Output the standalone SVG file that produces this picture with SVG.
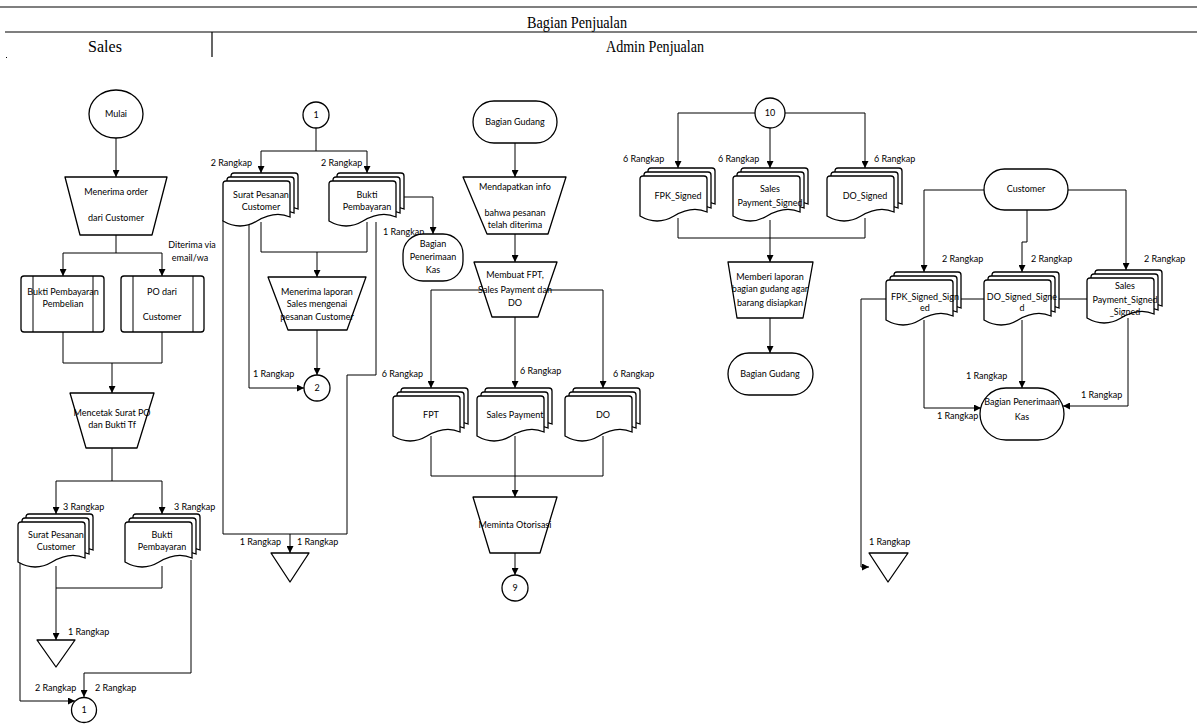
<svg xmlns="http://www.w3.org/2000/svg" width="1197" height="727" viewBox="0 0 1197 727">
<style>
.s{fill:#fff;stroke:#000;stroke-width:1.3}
.c{fill:none;stroke:#000;stroke-width:1}
.a{marker-end:url(#ah)}
.t{font-family:Lato,"Liberation Sans",sans-serif;font-size:9px;fill:#000;text-anchor:middle}
.l{font-family:Lato,"Liberation Sans",sans-serif;font-size:9px;fill:#000;text-anchor:start}
.e{font-family:Lato,"Liberation Sans",sans-serif;font-size:9px;fill:#000;text-anchor:end}
.h{font-family:"Liberation Serif",serif;font-size:16px;fill:#000;text-anchor:middle}
.hl{fill:none;stroke:#000;stroke-width:1.2}
</style>
<defs>
<marker id="ah" viewBox="0 0 10 10" refX="10" refY="5" markerWidth="7" markerHeight="7" markerUnits="userSpaceOnUse" orient="auto"><path d="M0,0 L10,5 L0,10 z" fill="#000"/></marker>
<path id="doc" class="s" d="M0,3 Q0,0 3,0 H64 Q67,0 67,3 V36 C56,31 44,34 34,40 C24,46 12,47 0,40 Z"/>
<g id="md"><use href="#doc" x="8" y="0"/><use href="#doc" x="4" y="4"/><use href="#doc" x="0" y="8"/></g>
</defs>
<rect width="1197" height="727" fill="#fff"/>

<g id="header">
<path class="hl" d="M0,7 H1197 M5,32 H1197 M212,32 V57"/>
<rect x="6" y="57" width="1" height="1" fill="#000"/>
<text class="h" x="577" y="28" textLength="100" lengthAdjust="spacingAndGlyphs">Bagian Penjualan</text>
<text class="h" x="105" y="52">Sales</text>
<text class="h" x="655" y="52" textLength="98" lengthAdjust="spacingAndGlyphs">Admin Penjualan</text>
</g>

<g id="connectors">
<path class="c a" d="M116,138 V177"/>
<path class="c" d="M116,235 V253 M63,253 H162"/>
<path class="c a" d="M63,253 V276"/>
<path class="c a" d="M162,253 V276"/>
<path class="c" d="M63,332 V363 H162 V332"/>
<path class="c a" d="M112,363 V393"/>
<path class="c" d="M112,448 V481 M56,481 H162"/>
<path class="c a" d="M56,481 V514"/>
<path class="c a" d="M162,481 V514"/>
<path class="c" d="M162,566 V588 H56"/>
<path class="c a" d="M56,566 V640"/>
<path class="c a" d="M20,560 V701 H75"/>
<path class="c a" d="M191,560 V673 H84 V697"/>

<path class="c" d="M316,128 V151 M261,151 H367"/>
<path class="c a" d="M261,151 V173"/>
<path class="c a" d="M367,151 V173"/>
<path class="c a" d="M404,197 H433 V234"/>
<path class="c" d="M261,222 V252 H367 V222"/>
<path class="c a" d="M317,252 V277"/>
<path class="c a" d="M317,330 V375"/>
<path class="c a" d="M249,222 V388 H304"/>
<path class="c" d="M223,220 V534 H347 V375 H376 V222"/>
<path class="c a" d="M290,534 V553"/>

<path class="c a" d="M515,143 V177"/>
<path class="c a" d="M515,234 V262"/>
<path class="c" d="M431,290 H603"/>
<path class="c a" d="M431,290 V388"/>
<path class="c a" d="M603,290 V388"/>
<path class="c a" d="M515,317 V388"/>
<path class="c" d="M431,436 V476 H603 V436"/>
<path class="c a" d="M515,436 V497"/>
<path class="c a" d="M515,553 V575"/>

<path class="c a" d="M755,113 H678 V168"/>
<path class="c a" d="M785,113 H865 V168"/>
<path class="c a" d="M770,128 V168"/>
<path class="c" d="M678,218 V238 H865 V218"/>
<path class="c a" d="M770,220 V262"/>
<path class="c a" d="M770,318 V353"/>

<path class="c a" d="M984,190 H924 V272"/>
<path class="c a" d="M1068,190 H1126 V270"/>
<path class="c a" d="M1027,210 V242 H1022 V272"/>
<path class="c" d="M861,299 H1087"/>
<path class="c a" d="M861,299 V567 H869"/>
<path class="c a" d="M924,320 V408 H981"/>
<path class="c a" d="M1022,320 V388"/>
<path class="c a" d="M1128,318 V406 H1063"/>

<text class="l" x="63" y="510">3 Rangkap</text>
<text class="l" x="174" y="510">3 Rangkap</text>
<text class="l" x="68" y="635">1 Rangkap</text>
<text class="l" x="35" y="691">2 Rangkap</text>
<text class="l" x="95" y="691">2 Rangkap</text>
<text class="t" x="192" y="248">Diterima via</text>
<text class="t" x="190" y="261">email/wa</text>

<text class="e" x="252" y="166">2 Rangkap</text>
<text class="l" x="321" y="166">2 Rangkap</text>
<text class="l" x="383" y="235">1 Rangkap</text>
<text class="l" x="253" y="377">1 Rangkap</text>
<text class="e" x="281" y="545">1 Rangkap</text>
<text class="l" x="297" y="545">1 Rangkap</text>

<text class="e" x="423" y="377">6 Rangkap</text>
<text class="l" x="520" y="374">6 Rangkap</text>
<text class="l" x="613" y="377">6 Rangkap</text>

<text class="l" x="623" y="162">6 Rangkap</text>
<text class="l" x="718" y="162">6 Rangkap</text>
<text class="l" x="874" y="162">6 Rangkap</text>

<text class="l" x="942" y="262">2 Rangkap</text>
<text class="l" x="1031" y="262">2 Rangkap</text>
<text class="l" x="1144" y="262">2 Rangkap</text>
<text class="l" x="869" y="545">1 Rangkap</text>
<text class="l" x="937" y="419">1 Rangkap</text>
<text class="l" x="966" y="379">1 Rangkap</text>
<text class="l" x="1081" y="398">1 Rangkap</text>
</g>

<g id="mulai"><ellipse class="s" cx="116" cy="114" rx="27" ry="24"/><text class="t" x="116" y="117">Mulai</text></g>
<g id="menerima-order"><polygon class="s" stroke-linejoin="round" points="65,177 167,177 152,235 80,235"/><text class="t" x="116" y="195">Menerima order</text><text class="t" x="116" y="221">dari Customer</text></g>
<g id="bukti-pembelian"><rect class="s" x="21" y="276" width="83" height="56" rx="3"/><path class="c" d="M33,276 V332 M93,276 V332"/><text class="t" x="63" y="295">Bukti Pembayaran</text><text class="t" x="63" y="307">Pembelian</text></g>
<g id="po-customer"><rect class="s" x="121" y="276" width="83" height="56" rx="3"/><path class="c" d="M133,276 V332 M193,276 V332"/><text class="t" x="162" y="295">PO dari</text><text class="t" x="162" y="320">Customer</text></g>
<g id="mencetak"><polygon class="s" stroke-linejoin="round" points="70,393 154,393 137,448 86,448"/><text class="t" x="112" y="416">Mencetak Surat PO</text><text class="t" x="112" y="428">dan Bukti Tf</text></g>
<g id="sales-surat"><use href="#md" x="18" y="514"/><text class="t" x="56" y="538">Surat Pesanan</text><text class="t" x="56" y="550">Customer</text></g>
<g id="sales-bukti"><use href="#md" x="125" y="514"/><text class="t" x="162" y="538">Bukti</text><text class="t" x="162" y="550">Pembayaran</text></g>
<g id="sales-arsip"><polygon class="s" stroke-linejoin="round" points="37,640 75,640 56,667"/></g>
<g id="conn-1a"><circle class="s" cx="84" cy="710" r="12.5"/><text class="t" x="84" y="713">1</text></g>

<g id="conn-1b"><circle class="s" cx="316" cy="115" r="13"/><text class="t" x="316" y="118">1</text></g>
<g id="adm-surat"><use href="#md" x="223" y="173"/><text class="t" x="261" y="198">Surat Pesanan</text><text class="t" x="261" y="210">Customer</text></g>
<g id="adm-bukti"><use href="#md" x="329" y="173"/><text class="t" x="367" y="198">Bukti</text><text class="t" x="367" y="210">Pembayaran</text></g>
<g id="kas-1"><rect class="s" x="403" y="234" width="60" height="47" rx="20"/><text class="t" x="433" y="247">Bagian</text><text class="t" x="433" y="260">Penerimaan</text><text class="t" x="433" y="273">Kas</text></g>
<g id="menerima-laporan"><polygon class="s" stroke-linejoin="round" points="268,277 366,277 347,330 288,330"/><text class="t" x="317" y="295">Menerima laporan</text><text class="t" x="317" y="307">Sales mengenai</text><text class="t" x="317" y="320">pesanan Customer</text></g>
<g id="conn-2"><circle class="s" cx="317" cy="388" r="13"/><text class="t" x="317" y="391">2</text></g>
<g id="adm-arsip"><polygon class="s" stroke-linejoin="round" points="271,553 309,553 290,582"/></g>

<g id="gudang-1"><rect class="s" x="473" y="101" width="84" height="42" rx="21"/><text class="t" x="515" y="125">Bagian Gudang</text></g>
<g id="mendapatkan"><polygon class="s" stroke-linejoin="round" points="463,177 566,177 548,234 487,234"/><text class="t" x="515" y="190">Mendapatkan info</text><text class="t" x="515" y="216">bahwa pesanan</text><text class="t" x="515" y="228">telah diterima</text></g>
<g id="membuat"><polygon class="s" stroke-linejoin="round" points="474,262 557,262 538,317 492,317"/><text class="t" x="515" y="278">Membuat FPT,</text><text class="t" x="515" y="293">Sales Payment dan</text><text class="t" x="515" y="306">DO</text></g>
<g id="fpt"><use href="#md" x="393" y="388"/><text class="t" x="431" y="418">FPT</text></g>
<g id="sales-payment"><use href="#md" x="477" y="388"/><text class="t" x="515" y="418">Sales Payment</text></g>
<g id="do"><use href="#md" x="565" y="388"/><text class="t" x="603" y="418">DO</text></g>
<g id="meminta"><polygon class="s" stroke-linejoin="round" points="473,497 557,497 540,553 490,553"/><text class="t" x="515" y="528">Meminta Otorisasi</text></g>
<g id="conn-9"><circle class="s" cx="515" cy="588" r="13"/><text class="t" x="515" y="591">9</text></g>

<g id="conn-10"><circle class="s" cx="770" cy="113" r="15"/><text class="t" x="770" y="116">10</text></g>
<g id="fpk-signed"><use href="#md" x="640" y="168"/><text class="t" x="678" y="199">FPK_Signed</text></g>
<g id="sp-signed"><use href="#md" x="733" y="168"/><text class="t" x="770" y="192">Sales</text><text class="t" x="770" y="206">Payment_Signed</text></g>
<g id="do-signed"><use href="#md" x="827" y="168"/><text class="t" x="865" y="199">DO_Signed</text></g>
<g id="memberi"><polygon class="s" stroke-linejoin="round" points="728,262 813,262 803,318 737,318"/><text class="t" x="770" y="280">Memberi laporan</text><text class="t" x="770" y="292">bagian gudang agar</text><text class="t" x="770" y="306">barang disiapkan</text></g>
<g id="gudang-2"><rect class="s" x="728" y="353" width="85" height="42" rx="21"/><text class="t" x="770" y="377">Bagian Gudang</text></g>

<g id="customer"><rect class="s" x="984" y="169" width="84" height="41" rx="20.5"/><text class="t" x="1026" y="192">Customer</text></g>
<g id="fpk-ss"><use href="#md" x="886" y="272"/><text class="t" x="925" y="300">FPK_Signed_Sign</text><text class="t" x="925" y="311">ed</text></g>
<g id="do-ss"><use href="#md" x="984" y="272"/><text class="t" x="1022" y="300">DO_Signed_Signe</text><text class="t" x="1022" y="311">d</text></g>
<g id="sp-ss"><use href="#md" x="1087" y="270"/><text class="t" x="1125" y="289">Sales</text><text class="t" x="1125" y="303">Payment_Signed</text><text class="t" x="1125" y="315">_Signed</text></g>
<g id="kas-2"><rect class="s" x="980" y="388" width="84" height="52" rx="26"/><text class="t" x="1022" y="405">Bagian Penerimaan</text><text class="t" x="1022" y="420">Kas</text></g>
<g id="right-arsip"><polygon class="s" stroke-linejoin="round" points="869,553 908,553 888,582"/></g>
</svg>
